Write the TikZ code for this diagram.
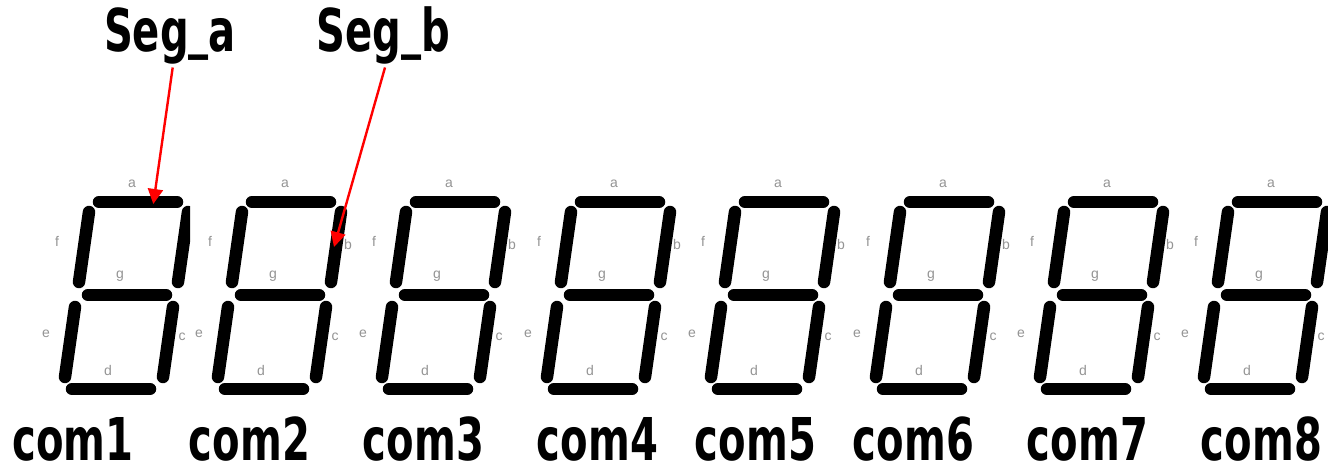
\documentclass[tikz,border=0pt]{standalone}
\usepackage{fontspec}
\setmainfont{Liberation Sans}
\newfontfamily\bigfont{DejaVu Sans}
\usetikzlibrary{arrows.meta}
\definecolor{lbl}{gray}{0.58}
\tikzset{
  segline/.style={line width=12.5pt,line cap=round,black},
  letter/.style={anchor=base,inner sep=0pt,text=lbl,font=\fontsize{14}{14}\selectfont},
  big/.style={anchor=base,inner sep=0pt,text=black,font=\bigfont\fontsize{59}{59}\selectfont\bfseries},
  pointer/.style={draw=red,line width=2.4pt,-{Triangle[length=15pt,width=15pt,fill=red]}}
}
\newcommand{\narrowtext}[1]{\scalebox{0.68}[1]{#1}}
\newcommand{\lowbar}{\raisebox{5pt}{\_}}
\begin{document}
\begin{tikzpicture}[x=1pt,y=-1pt]
\useasboundingbox (0,0) rectangle (1328,465);
\fill[white] (0,0) rectangle (1328,465);
\foreach \dx/\n in {0/1,153/2,317/3,482/4,646/5,811/6,975/7,1139/8}{
  \begin{scope}[xshift=\dx pt]
    \draw[segline] (99,202) -- (177,202);
    \draw[segline] (89,212) -- (79,282);
    \ifnum\n=1\relax
      \begin{scope}
        \clip (170,190) rectangle (190,295);
        \draw[segline] (188,212) -- (178,282);
      \end{scope}
    \else
      \draw[segline] (188,212) -- (178,282);
    \fi
    \draw[segline] (88,295) -- (166,295);
    \draw[segline] (75,307) -- (65,377);
    \draw[segline] (173,307) -- (163,377);
    \draw[segline] (72,389) -- (150,389);
    \node[letter] (a\n) at (132,188) {a};
    \node[letter] (f\n) at (57,247) {f};
    \ifnum\n=1\relax\else\ifnum\n=8\relax\else\node[letter] (b\n) at (195,249) {b};\fi\fi
    \node[letter] (g\n) at (120,278) {g};
    \node[letter] (e\n) at (46,337) {e};
    \node[letter] (c\n) at (182,340) {c};
    \node[letter] (d\n) at (108,375) {d};
  \end{scope}
}
\foreach \x/\n in {73/1,249.5/2,423.5/3,597.5/4,755.5/5,913.5/6,1087.5/7,1261.5/8}{
  \node[big] (com\n) at (\x,460.5) {\narrowtext{com\n}};
}
\node[big] (sega) at (170,52) {\narrowtext{Seg\lowbar a}};
\node[big] (segb) at (383,52) {\narrowtext{Seg\lowbar b}};
\coordinate (sa) at (172.7,67.5);
\coordinate (sb) at (385,67.5);
\coordinate (ta) at (153.3,204);
\coordinate (tb) at (334,247);
\draw[pointer] (sa) -- (ta);
\draw[pointer] (sb) -- (tb);
\end{tikzpicture}
\end{document}
